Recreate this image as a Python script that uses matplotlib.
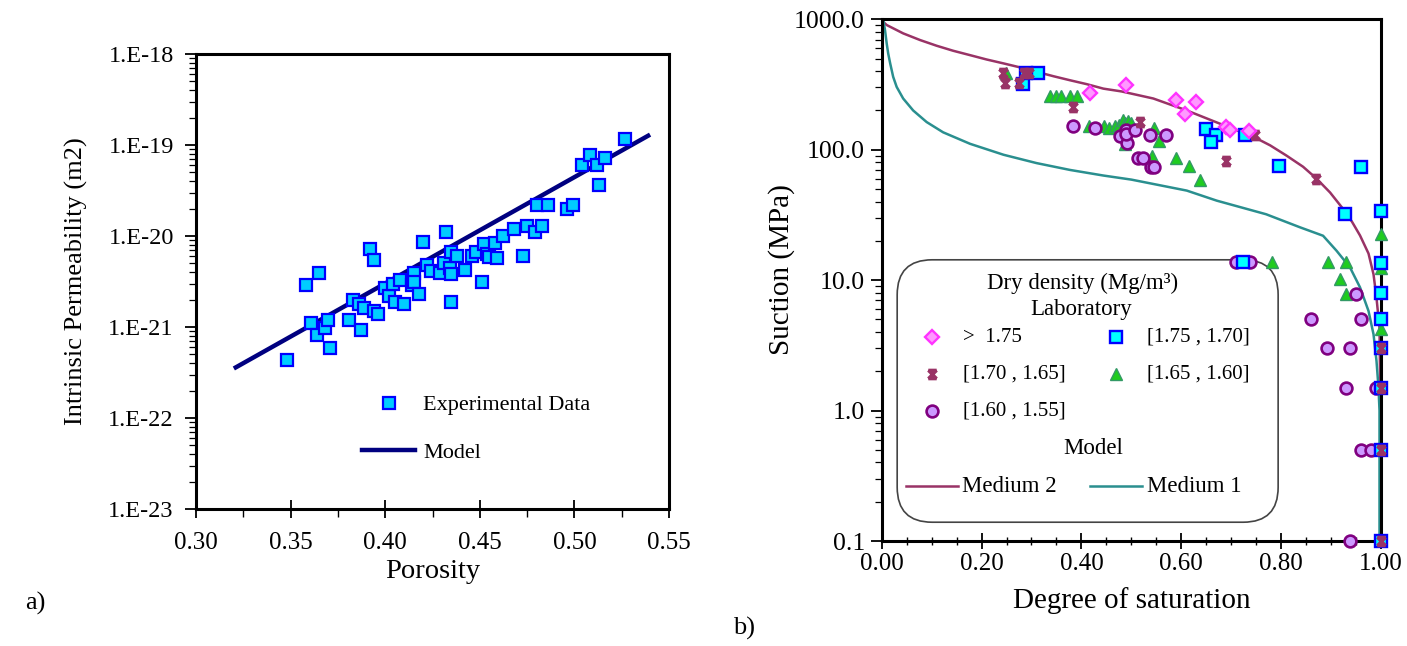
import numpy as np
import matplotlib.pyplot as plt
from matplotlib.path import Path
from matplotlib.patches import FancyBboxPatch
from matplotlib.lines import Line2D
from matplotlib.ticker import MultipleLocator, FixedLocator, NullFormatter, FuncFormatter

plt.rcParams['font.family'] = ['Liberation Serif', 'DejaVu Serif']

# ---- a) intrinsic permeability vs porosity ----
porosity = [0.348, 0.358, 0.365, 0.361, 0.364, 0.368, 0.370, 0.371, 0.381, 0.383,
            0.386, 0.387, 0.389, 0.392, 0.394, 0.394, 0.396, 0.400, 0.402, 0.404,
            0.405, 0.408, 0.410, 0.414, 0.415, 0.415, 0.418, 0.420, 0.422, 0.424,
            0.429, 0.431, 0.432, 0.434, 0.435, 0.435, 0.435, 0.438, 0.442, 0.446,
            0.448, 0.451, 0.452, 0.454, 0.455, 0.458, 0.459, 0.462, 0.468, 0.473,
            0.475, 0.479, 0.480, 0.483, 0.486, 0.496, 0.499, 0.504, 0.508, 0.512,
            0.513, 0.516, 0.527]
permeability = [4.3e-22, 2.9e-21, 3.9e-21, 1.1e-21, 8.1e-22, 9.7e-22, 1.2e-21, 5.9e-22, 1.2e-21, 2.0e-21,
                1.8e-21, 9.3e-22, 1.6e-21, 7.2e-21, 5.4e-21, 1.5e-21, 1.4e-21, 2.7e-21, 2.2e-21, 3.0e-21,
                1.9e-21, 3.3e-21, 1.8e-21, 2.9e-21, 3.9e-21, 3.1e-21, 2.3e-21, 8.6e-21, 4.8e-21, 4.1e-21,
                3.9e-21, 5.1e-21, 1.1e-20, 4.4e-21, 3.8e-21, 6.6e-21, 1.9e-21, 6.1e-21, 4.2e-21, 6.1e-21,
                6.6e-21, 3.1e-21, 8.2e-21, 6.3e-21, 5.9e-21, 8.4e-21, 5.8e-21, 1.0e-20, 1.2e-20, 6.1e-21,
                1.3e-20, 1.1e-20, 2.2e-20, 1.3e-20, 2.2e-20, 2.0e-20, 2.2e-20, 6.1e-20, 7.7e-20, 6.0e-20,
                3.6e-20, 7.2e-20, 1.16e-19]
model_porosity = [0.32, 0.54]
model_permeability = [3.5e-22, 1.3e-19]
perm_ticks = [1e-23, 1e-22, 1e-21, 1e-20, 1e-19, 1e-18]

# ---- b) suction vs degree of saturation ----
sat_gt175 = [0.417, 0.489, 0.589, 0.629, 0.607, 0.690, 0.698, 0.735]
suc_gt175 = [273, 313, 239, 232, 189, 149, 141, 140]

sat_175_170 = [0.282, 0.290, 0.314, 0.650, 0.670, 0.659, 0.728, 0.796, 0.959, 0.928,
               1.0, 0.724, 1.0, 1.0, 1.0, 1.0, 1.0, 1.0, 1.0]
suc_175_170 = [318, 385, 385, 143, 129, 115, 129, 75, 73.5, 32,
               34, 13.8, 13.6, 8.0, 5.0, 3.0, 1.5, 0.5, 0.1]

sat_170_165 = [0.242, 0.247, 0.274, 0.284, 0.296, 0.384, 0.517, 0.690, 0.748, 0.870,
               1.0, 1.0, 1.0, 1.0]
suc_170_165 = [385, 322, 322, 385, 385, 213, 163, 82, 129, 60,
               3.0, 1.5, 0.5, 0.1]

sat_165_160 = [0.249, 0.337, 0.350, 0.360, 0.377, 0.391, 0.415, 0.446, 0.455, 0.467,
               0.475, 0.484, 0.487, 0.494, 0.500, 0.488, 0.546, 0.556, 0.542, 0.590,
               0.615, 0.637, 0.781, 0.893, 0.930, 0.917, 0.930, 1.0, 1.0, 1.0]
suc_165_160 = [385, 257, 257, 257, 257, 257, 151, 153, 148, 151,
               155, 170, 160, 165, 160, 110, 147, 116, 89, 86,
               74.5, 59, 13.8, 13.8, 13.8, 10.2, 7.8, 22.6, 12.5, 4.2]

sat_160_155 = [0.384, 0.428, 0.477, 0.489, 0.491, 0.489, 0.507, 0.537, 0.569, 0.514,
               0.524, 0.539, 0.546, 0.710, 0.738, 0.950, 0.860, 0.959, 0.891, 0.938,
               0.929, 0.990, 0.959, 0.979, 0.938]
suc_160_155 = [152, 146, 127, 141, 112, 132, 141, 129, 129, 87,
               87, 74, 74, 13.8, 13.8, 7.9, 5.0, 5.0, 3.0, 3.0,
               1.5, 1.5, 0.5, 0.5, 0.1]

medium2_sat = [0.0, 0.003, 0.010, 0.043, 0.077, 0.110, 0.143, 0.177, 0.210, 0.244,
               0.277, 0.310, 0.344, 0.377, 0.411, 0.444, 0.480, 0.544, 0.611, 0.678,
               0.744, 0.778, 0.811, 0.844, 0.871, 0.898, 0.922, 0.942, 0.958, 0.975,
               0.985, 0.991, 0.997, 0.999, 1.0]
medium2_suc = [1000, 955, 904, 780, 693, 627, 574, 531, 492, 459,
               428, 396, 366, 341, 318, 294, 280, 247, 200, 158,
               126, 108, 90, 74, 60, 47, 36, 28, 22, 16.0,
               11.1, 7.3, 4.3, 1.0, 0.1]

medium1_sat = [0.003, 0.0066, 0.010, 0.013, 0.017, 0.023, 0.030, 0.043, 0.063, 0.090,
               0.123, 0.177, 0.244, 0.310, 0.377, 0.444, 0.500, 0.611, 0.671, 0.770,
               0.838, 0.884, 0.911, 0.938, 0.958, 0.975, 0.985, 0.991, 0.995, 0.997,
               0.997]
medium1_suc = [1000, 827, 653, 547, 459, 362, 303, 247, 200, 163,
               136, 111, 91.5, 79, 70, 63.4, 59, 48.6, 40.7, 32,
               25.4, 21.9, 16.8, 12.5, 8.8, 5.8, 3.85, 2.4, 1.5, 1.0,
               0.1]
suction_ticks = [0.1, 1, 10, 100, 1000]

W, H = 1407, 646
fig = plt.figure(figsize=(W / 100, H / 100), dpi=100)

def px_axes(x0, y0, x1, y1):
    return fig.add_axes([x0 / W, 1 - y1 / H, (x1 - x0) / W, (y1 - y0) / H])

ax1 = px_axes(196, 54, 669, 509)
ax2 = px_axes(881.7, 19.3, 1381, 541)

cyan_face = '#00CCFF'
blue_edge = '#0000FF'
maroon = '#993366'
teal = '#2A8F8F'

# panel a
ax1.plot(model_porosity, model_permeability, color='#000080', lw=3.2,
         solid_capstyle='butt', zorder=2)
ax1.plot(porosity, permeability, ls='none', marker='s', ms=8.5, mfc=cyan_face,
         mec=blue_edge, mew=1.6, zorder=3)
ax1.set_yscale('log')
ax1.set_xlim(0.30, 0.55)
ax1.set_ylim(1e-23, 1e-18)
ax1.xaxis.set_major_locator(MultipleLocator(0.05))
ax1.xaxis.set_minor_locator(MultipleLocator(0.025))
ax1.xaxis.set_major_formatter(FuncFormatter(lambda v, p: f'{v:.2f}'))
ax1.yaxis.set_major_locator(FixedLocator(perm_ticks))
ax1.yaxis.set_minor_locator(FixedLocator([m * t for t in perm_ticks[:-1] for m in range(2, 10)]))
ax1.yaxis.set_minor_formatter(NullFormatter())
ax1.yaxis.set_major_formatter(FuncFormatter(lambda v, p: f'1.E{int(round(np.log10(v)))}'))
ax1.tick_params(axis='x', which='major', direction='inout', length=13, width=1.3,
                labelsize=18, pad=10)
ax1.tick_params(axis='x', which='minor', direction='out', length=6, width=1.0)
ax1.tick_params(axis='y', which='major', direction='out', length=8, width=1.3,
                labelsize=17.5, pad=8)
ax1.tick_params(axis='y', which='minor', direction='out', length=5, width=0.9)
ax1.set_xlabel('Porosity', fontsize=20.5, labelpad=4)
ax1.set_ylabel('Intrinsic Permeability (m2)', fontsize=19)
ax1.yaxis.set_label_coords(-(196 - 88) / 473, 0.5)
for sp in ax1.spines.values():
    sp.set_linewidth(2.2)

h_data = Line2D([], [], ls='none', marker='s', ms=8.5, mfc=cyan_face, mec=blue_edge, mew=1.6)
h_model = Line2D([], [], color='#000080', lw=3.2)
ax1.legend([h_data, h_model], ['Experimental Data', 'Model'], loc='upper left',
           bbox_to_anchor=(353 / W, 1 - 386 / H), bbox_transform=fig.transFigure,
           frameon=False, fontsize=16, handlelength=2.4, handletextpad=0.35,
           labelspacing=1.2, borderaxespad=0)

# panel b
star = Path([(-1, -1), (1, 1), (-1, 1), (1, -1), (-1, 1), (1, 1), (-1, -1), (1, -1)],
            [Path.MOVETO, Path.LINETO] * 4)

ax2.plot(medium2_sat, medium2_suc, color=maroon, lw=1.8, zorder=2)
ax2.plot(medium1_sat, medium1_suc, color=teal, lw=1.8, zorder=2)

styles = [
    (sat_165_160, suc_165_160, dict(marker='^', ms=9, mfc='#1FCC1F', mec='#339966', mew=1.0)),
    (sat_160_155, suc_160_155, dict(marker='o', ms=8.5, mfc='#CC99FF', mec='#800080', mew=1.9)),
    (sat_175_170, suc_175_170, dict(marker='s', ms=8, mfc='#00FFFF', mec=blue_edge, mew=1.7)),
    (sat_170_165, suc_170_165, dict(marker=star, ms=6, mfc='none', mec=maroon, mew=2.4)),
    (sat_gt175, suc_gt175, dict(marker='D', ms=7, mfc='#FF99FF', mec='#FF33FF', mew=1.7)),
]
for sx, sy, st in styles:
    ax2.plot(sx, sy, ls='none', clip_on=False, zorder=4, **st)

ax2.set_yscale('log')
ax2.set_xlim(0, 1)
ax2.set_ylim(0.1, 1000)
ax2.xaxis.set_major_locator(MultipleLocator(0.2))
ax2.xaxis.set_minor_locator(MultipleLocator(0.05))
ax2.xaxis.set_major_formatter(FuncFormatter(lambda v, p: f'{v:.2f}'))
ax2.yaxis.set_major_locator(FixedLocator(suction_ticks))
ax2.yaxis.set_minor_locator(FixedLocator([m * t for t in suction_ticks[:-1] for m in range(2, 10)]))
ax2.yaxis.set_minor_formatter(NullFormatter())
ax2.yaxis.set_major_formatter(FuncFormatter(lambda v, p: f'{v:.1f}'))
ax2.tick_params(axis='x', which='major', direction='inout', length=12, width=1.3,
                labelsize=18, pad=3)
ax2.tick_params(axis='x', which='minor', direction='inout', length=6, width=1.0)
ax2.tick_params(axis='y', which='major', direction='out', length=8, width=1.3,
                labelsize=18.5, pad=4)
ax2.tick_params(axis='y', which='minor', direction='out', length=5, width=0.9)
ax2.set_xlabel('Degree of saturation', fontsize=21, labelpad=8)
ax2.set_ylabel('Suction (MPa)', fontsize=21)
ax2.yaxis.set_label_coords(-(881.7 - 795) / 499.3, 0.52)
for sp in ax2.spines.values():
    sp.set_linewidth(2.2)

# legend box with rounded corners
aw, ah = 1381 - 881.7, 541 - 19.3
box = FancyBboxPatch((0.031, 0.036), 0.794 - 0.031, 0.539 - 0.036,
                     boxstyle='round,pad=0,rounding_size=0.07',
                     mutation_aspect=aw / ah, transform=ax2.transAxes,
                     fc='white', ec='#444444', lw=1.2, zorder=1.5)
ax2.add_patch(box)

tr = ax2.transAxes
fs_head = 16.5
fs_leg = 15
ax2.text(0.403, 0.493, 'Dry density (Mg/m³)', transform=tr, ha='center', va='center', fontsize=fs_head, zorder=5)
ax2.text(0.399, 0.443, 'Laboratory', transform=tr, ha='center', va='center', fontsize=fs_head, zorder=5)
ax2.text(0.423, 0.178, 'Model', transform=tr, ha='center', va='center', fontsize=fs_head, zorder=5)

entries = [
    (0.101, 0.391, '>  1.75', styles[4][2]),
    (0.469, 0.391, '[1.75 , 1.70]', styles[2][2]),
    (0.101, 0.320, '[1.70 , 1.65]', styles[3][2]),
    (0.469, 0.320, '[1.65 , 1.60]', styles[0][2]),
    (0.101, 0.249, '[1.60 , 1.55]', styles[1][2]),
]
for mx, my, lab, st in entries:
    ax2.plot([mx], [my], ls='none', transform=tr, clip_on=False, zorder=5, **st)
    ax2.text(mx + 0.062, my, lab, transform=tr, ha='left', va='center', fontsize=fs_leg, zorder=5)

ax2.plot([0.049, 0.153], [0.105, 0.105], color=maroon, lw=1.8, transform=tr, zorder=5)
ax2.text(0.161, 0.105, 'Medium 2', transform=tr, ha='left', va='center', fontsize=fs_head, zorder=5)
ax2.plot([0.417, 0.521], [0.105, 0.105], color=teal, lw=1.8, transform=tr, zorder=5)
ax2.text(0.531, 0.105, 'Medium 1', transform=tr, ha='left', va='center', fontsize=fs_head, zorder=5)

fig.text(25 / W, 1 - 603 / H, 'a)', fontsize=19, va='center', ha='left')
fig.text(733 / W, 1 - 628 / H, 'b)', fontsize=19, va='center', ha='left')

fig.savefig('out.png', dpi=100)
